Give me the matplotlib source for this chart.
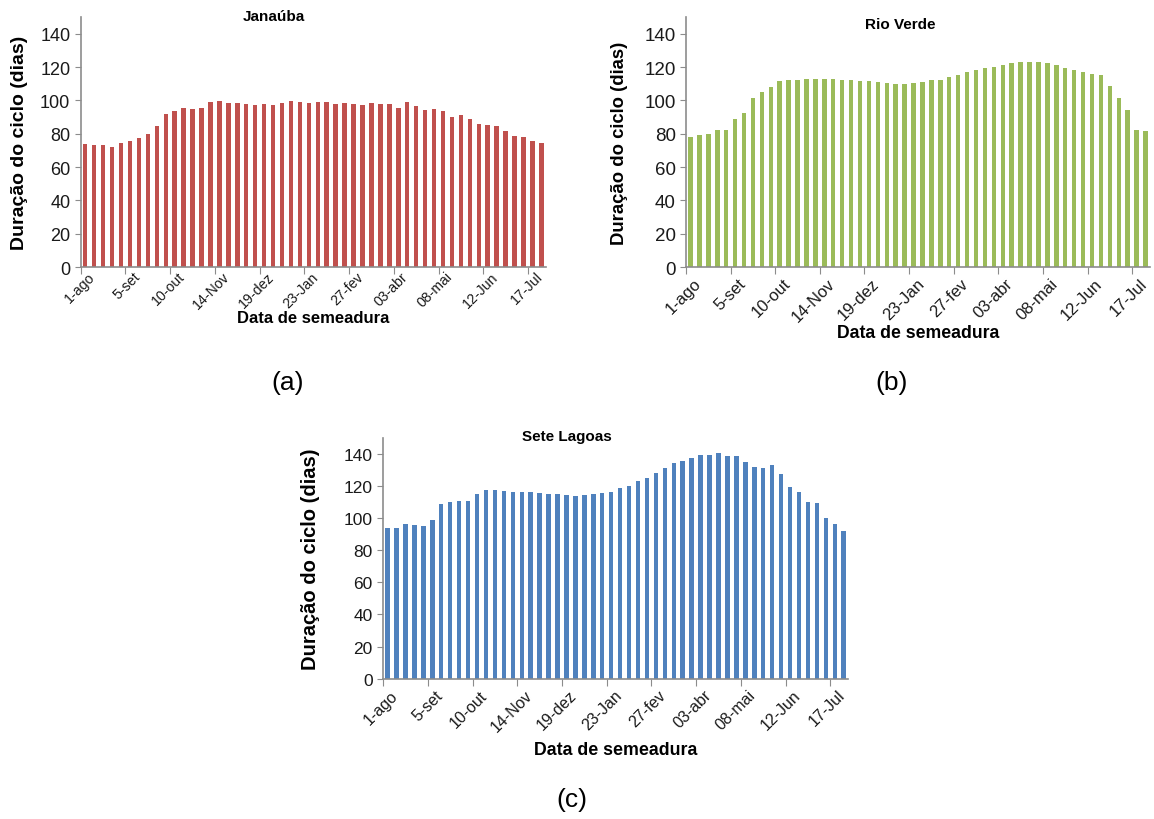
import numpy as np
import matplotlib
matplotlib.use('Agg')
import matplotlib.pyplot as plt
from matplotlib.ticker import FixedLocator, NullFormatter

# =============================================================================
# DATA (weekly sowing dates, 52 per site)
# =============================================================================

tick_labels = ['1-ago', '5-set', '10-out', '14-Nov', '19-dez', '23-Jan',
               '27-fev', '03-abr', '08-mai', '12-Jun', '17-Jul']

janauba = [74, 73.4, 73.4, 72.2, 74.6, 75.8, 77.6, 80, 84.8, 92,
           93.8, 95.6, 95, 95.6, 99.2, 99.8, 98.6, 98.6, 98, 97.4,
           98, 97.4, 98.6, 99.8, 99.2, 98.6, 99.2, 99.2, 98, 98.6,
           98, 97.4, 98.6, 98, 98, 95.6, 99.2, 96.8, 94.4, 95,
           93.8, 90.2, 91.4, 89, 86, 85.4, 84.8, 81.8, 78.8, 78.2,
           75.8, 74.6]

rio_verde = [78, 79.5, 80, 82.4, 82.4, 88.6, 92.5, 101.5, 105, 108.3,
             111.5, 112.3, 112.5, 113, 113, 112.7, 112.7, 112.5, 112.5, 111.7,
             111.5, 111, 110.7, 109.7, 110.1, 110.7, 111, 112.3, 112.5, 114,
             115, 117, 118, 119.3, 120.3, 121, 122.3, 123, 123, 123,
             122.3, 121.3, 119.7, 118.3, 117.3, 116, 115, 108.5, 101.5, 94,
             82.5, 81.5]

sete_lagoas = [93.6, 93.6, 96.5, 95.9, 95.2, 99, 108.9, 110.2, 110.8, 110.8,
               115.1, 117.6, 117.6, 117, 116.4, 116.4, 116.4, 115.8, 115.1, 115.1,
               114.5, 113.9, 114.5, 115.1, 115.8, 116.4, 118.9, 120.1, 123.2, 125.1,
               128.2, 131.3, 134.4, 135.7, 137.6, 139.4, 139.4, 140.7, 138.8, 138.8,
               135.1, 131.9, 131.3, 133.2, 127.6, 119.5, 116.4, 110.2, 109.5, 100.2,
               96.5, 92.1]

# =============================================================================
# STYLE
# =============================================================================

W, H = 1154, 820

plt.rcParams.update({
    'font.family': ['Liberation Sans', 'DejaVu Sans'],
    'axes.edgecolor': '#8c8c8c',
    'xtick.color': '#8c8c8c',
    'ytick.color': '#8c8c8c',
    'xtick.labelcolor': '#1a1a1a',
    'ytick.labelcolor': '#1a1a1a',
})


def draw_panel(ax, values, color, title, title_xy, sizes, ylab_x, xlab_y, xpad):
    """sizes = (ytick, xtick, ylabel, xlabel)"""
    ytick_fs, xtick_fs, ylab_fs, xlab_fs = sizes
    n = len(values)
    x = np.arange(n) + 0.5
    ax.bar(x, values, width=0.5, color=color, edgecolor='none')

    ax.set_xlim(0, n)
    ax.set_ylim(0, 150)
    ax.set_yticks(np.arange(0, 141, 20))
    ax.tick_params(axis='y', labelsize=ytick_fs, length=4, width=0.8)

    # tick marks on category boundaries, labels under the categories
    pos = np.arange(len(tick_labels)) * 5
    ax.xaxis.set_major_locator(FixedLocator(pos))
    ax.xaxis.set_major_formatter(NullFormatter())
    ax.xaxis.set_minor_locator(FixedLocator(pos + 0.8))
    ax.set_xticklabels(tick_labels, minor=True, rotation=45, ha='right',
                       rotation_mode='anchor', fontsize=xtick_fs)
    ax.tick_params(axis='x', which='major', length=5, width=0.8)
    ax.tick_params(axis='x', which='minor', length=0, pad=xpad)

    for s in ('top', 'right'):
        ax.spines[s].set_visible(False)
    ax.spines['left'].set_linewidth(1.2)
    ax.spines['bottom'].set_linewidth(1.2)

    fig.text(title_xy[0] / W, 1 - title_xy[1] / H, title, fontsize=11,
             fontweight='bold', ha='center', va='center')
    ax.set_ylabel('Duração do ciclo (dias)', fontsize=ylab_fs, fontweight='bold')
    ax.set_xlabel('Data de semeadura', fontsize=xlab_fs, fontweight='bold')
    ax.yaxis.set_label_coords(ylab_x, 0.5)
    ax.xaxis.set_label_coords(0.5, xlab_y)


fig = plt.figure(figsize=(W / 100, H / 100), dpi=100)

ax_a = fig.add_axes([0.0700, 0.673, 0.403, 0.305])
ax_b = fig.add_axes([0.5945, 0.673, 0.402, 0.305])
ax_c = fig.add_axes([0.3320, 0.171, 0.403, 0.294])

draw_panel(ax_a, janauba, '#C0504D', 'Janaúba', (274, 17),
           (13, 10.2, 14, 12), -0.114, -0.17, 1.5)
draw_panel(ax_b, rio_verde, '#9BBB59', 'Rio Verde', (900, 25),
           (13.5, 12, 13.3, 12.7), -0.125, -0.228, 6)
draw_panel(ax_c, sete_lagoas, '#4F81BD', 'Sete Lagoas', (567, 437),
           (12.5, 11.5, 14.5, 12.8), -0.135, -0.257, 6)

fig.text(288 / W, 1 - 383 / H, '(a)', fontsize=19, ha='center', va='center')
fig.text(892 / W, 1 - 383 / H, '(b)', fontsize=19, ha='center', va='center')
fig.text(572 / W, 1 - 800 / H, '(c)', fontsize=19, ha='center', va='center')

fig.savefig('out.png', dpi=100)
plt.close(fig)
